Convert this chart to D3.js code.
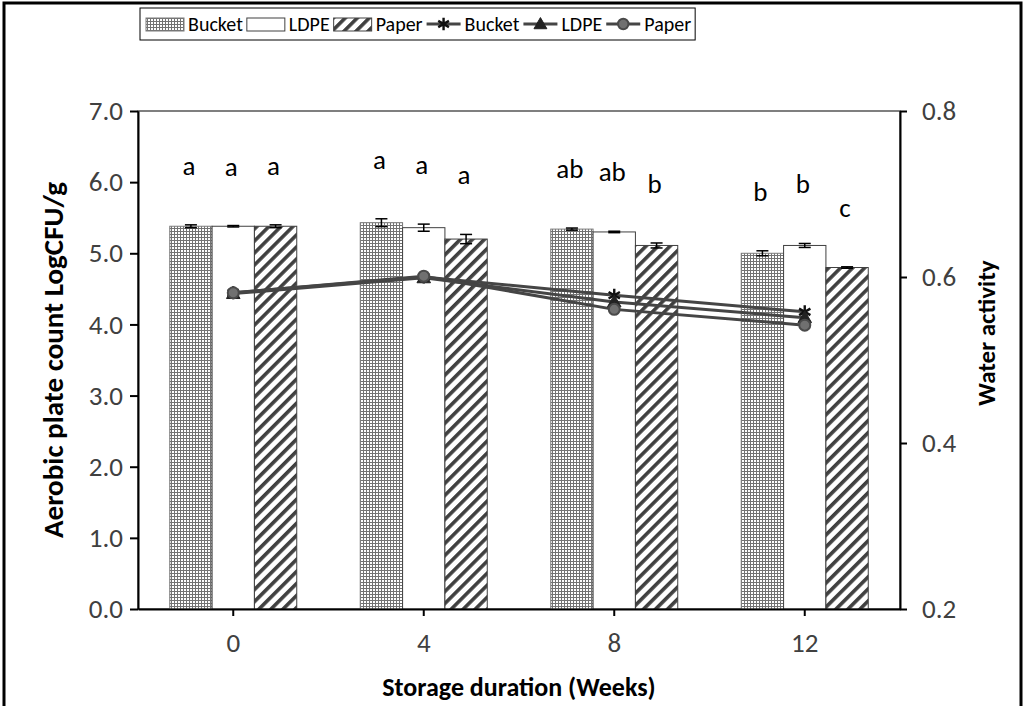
<!DOCTYPE html>
<html>
<head>
<meta charset="utf-8">
<script src="https://cdn.jsdelivr.net/npm/d3@7/dist/d3.min.js"></script>
<style>
  body { margin: 0; background: #fff; }
  svg text { font-family: Carlito, Calibri, Lato, "Open Sans", sans-serif; }
</style>
</head>
<body>
<svg id="chart" width="1025" height="706"></svg>
<script>
var weeks = ["0", "4", "8", "12"];
var series = ["Bucket", "LDPE", "Paper"];

// aerobic plate count, LogCFU/g (bars)
var apcBucket = [5.38, 5.43, 5.34, 5.00];
var apcLdpe = [5.38, 5.36, 5.30, 5.11];
var apcPaper = [5.38, 5.20, 5.11, 4.80];
var errBucket = [0.02, 0.055, 0.015, 0.035];
var errLdpe = [0.01, 0.05, 0.01, 0.028];
var errPaper = [0.02, 0.065, 0.035, 0.01];
var lettersBucket = ["a", "a", "ab", "b"];
var lettersLdpe = ["a", "a", "ab", "b"];
var lettersPaper = ["a", "a", "b", "c"];

// water activity (lines)
var awBucket = [0.581, 0.600, 0.578, 0.558];
var awLdpe = [0.580, 0.599, 0.570, 0.551];
var awPaper = [0.581, 0.601, 0.561, 0.542];

var leftTicks = [0, 1, 2, 3, 4, 5, 6, 7];
var rightTicks = [0.2, 0.4, 0.6, 0.8];

///////////////////////////////////////////////////////////////////////////////

var svg = d3.select("#chart");
var plot = { left: 138, right: 900, top: 111, bottom: 609 };

var x = d3.scaleBand().domain(weeks)
  .range([plot.left, plot.right])
  .paddingInner(1 / 3).paddingOuter(1 / 6);
var xs = d3.scaleBand().domain(series).range([0, x.bandwidth()]);
var yL = d3.scaleLinear().domain([0, 7]).range([plot.bottom, plot.top]);
var yR = d3.scaleLinear().domain([0.2, 0.8]).range([plot.bottom, plot.top]);

var defs = svg.append("defs");

var dots = defs.append("pattern").attr("id", "dots")
  .attr("patternUnits", "userSpaceOnUse").attr("width", 3).attr("height", 3);
dots.append("rect").attr("width", 3).attr("height", 3).attr("fill", "#fff");
dots.append("rect").attr("width", 3).attr("height", 1).attr("fill", "#737373");
dots.append("rect").attr("width", 1).attr("height", 3).attr("fill", "#737373");

var stripes = defs.append("pattern").attr("id", "stripes")
  .attr("patternUnits", "userSpaceOnUse").attr("width", 8.5).attr("height", 10)
  .attr("patternTransform", "rotate(45)");
stripes.append("rect").attr("width", 8.5).attr("height", 10).attr("fill", "#fff");
stripes.append("rect").attr("width", 3.6).attr("height", 10).attr("fill", "#404040");

var fills = { Bucket: "url(#dots)", LDPE: "#fff", Paper: "url(#stripes)" };
var edges = { Bucket: "#7a7a7a", LDPE: "#404040", Paper: "#404040" };

// outer frame
svg.append("rect").attr("x", 4).attr("y", 3).attr("width", 1017).attr("height", 730)
  .attr("fill", "none").attr("stroke", "#000").attr("stroke-width", 3);

// plot area border
svg.append("rect").attr("x", plot.left).attr("y", plot.top)
  .attr("width", plot.right - plot.left).attr("height", plot.bottom - plot.top)
  .attr("fill", "none").attr("stroke", "#000").attr("stroke-width", 1);

///////////////////////////////////////////////////////////////////////////////

var bars = [
  { name: "Bucket", vals: apcBucket, errs: errBucket, letters: lettersBucket },
  { name: "LDPE", vals: apcLdpe, errs: errLdpe, letters: lettersLdpe },
  { name: "Paper", vals: apcPaper, errs: errPaper, letters: lettersPaper }
];

bars.forEach(function (s) {
  var g = svg.append("g");
  weeks.forEach(function (w, i) {
    var bx = x(w) + xs(s.name);
    var cx = bx + xs.bandwidth() / 2;
    g.append("rect")
      .attr("x", bx).attr("y", yL(s.vals[i]))
      .attr("width", xs.bandwidth()).attr("height", yL(0) - yL(s.vals[i]))
      .attr("fill", fills[s.name]).attr("stroke", edges[s.name]).attr("stroke-width", 1);
    var lo = yL(s.vals[i] - s.errs[i]), hi = yL(s.vals[i] + s.errs[i]);
    g.append("line").attr("x1", cx).attr("x2", cx).attr("y1", lo).attr("y2", hi)
      .attr("stroke", "#000").attr("stroke-width", 1.5);
    [lo, hi].forEach(function (yy) {
      g.append("line").attr("x1", cx - 6).attr("x2", cx + 6).attr("y1", yy).attr("y2", yy)
        .attr("stroke", "#000").attr("stroke-width", 1.5);
    });
    g.append("text").attr("x", cx - 2).attr("y", hi - 50)
      .attr("text-anchor", "middle").attr("font-size", 27).attr("fill", "#000")
      .text(s.letters[i]);
  });
});

///////////////////////////////////////////////////////////////////////////////

var lines = [
  { name: "Bucket", vals: awBucket },
  { name: "LDPE", vals: awLdpe },
  { name: "Paper", vals: awPaper }
];

var cxOf = function (w) { return x(w) + x.bandwidth() / 2; };

var drawMarker = function (sel, s, px, py, scale) {
  var k = scale || 1;
  if (s.name === "Bucket") {
    sel.append("path").attr("transform", "translate(" + px + "," + py + ")")
      .attr("d", d3.symbol(d3.symbolAsterisk, 120 * k)())
      .attr("fill", "none").attr("stroke", "#111").attr("stroke-width", 2.4);
  } else if (s.name === "LDPE") {
    sel.append("path").attr("transform", "translate(" + px + "," + (py + 1) + ")")
      .attr("d", d3.symbol(d3.symbolTriangle, 80 * k)())
      .attr("fill", "#222").attr("stroke", "#222").attr("stroke-width", 1);
  } else {
    sel.append("path").attr("transform", "translate(" + px + "," + py + ")")
      .attr("d", d3.symbol(d3.symbolCircle, 95 * k)())
      .attr("fill", "#707070").attr("stroke", "#4a4a4a").attr("stroke-width", 2);
  }
};

var line = d3.line()
  .x(function (d, i) { return cxOf(weeks[i]); })
  .y(function (d) { return yR(d); });

lines.forEach(function (s) {
  svg.append("path").attr("d", line(s.vals))
    .attr("fill", "none").attr("stroke", "#454545").attr("stroke-width", 3);
});
lines.forEach(function (s) {
  var g = svg.append("g");
  s.vals.forEach(function (v, i) {
    drawMarker(g, s, cxOf(weeks[i]), yR(v));
  });
});

///////////////////////////////////////////////////////////////////////////////

var axisStyle = function (g) {
  g.select(".domain").attr("stroke", "#000").attr("stroke-width", 2);
  g.selectAll(".tick line").attr("stroke", "#000").attr("stroke-width", 2);
  g.selectAll(".tick text").attr("font-size", 27).attr("fill", "#404040")
    .style("font-family", "Carlito, Calibri, Lato, 'Open Sans', sans-serif");
};

svg.append("g").attr("transform", "translate(" + plot.left + ",0)")
  .call(d3.axisLeft(yL).tickValues(leftTicks).tickSize(8).tickSizeOuter(0)
    .tickPadding(7).tickFormat(d3.format(".1f")))
  .call(axisStyle);

svg.append("g").attr("transform", "translate(" + plot.right + ",0)")
  .call(d3.axisRight(yR).tickValues(rightTicks).tickSize(7).tickSizeOuter(0)
    .tickPadding(15).tickFormat(d3.format(".1f")))
  .call(axisStyle);

svg.append("g").attr("transform", "translate(0," + plot.bottom + ")")
  .call(d3.axisBottom(x).tickSize(7).tickSizeOuter(0).tickPadding(17))
  .call(axisStyle);

svg.append("text")
  .attr("transform", "translate(53," + (plot.top + plot.bottom) / 2 + ") rotate(-90)")
  .attr("text-anchor", "middle").attr("dy", "0.35em")
  .attr("font-size", 29).attr("font-weight", "bold")
  .text("Aerobic plate count LogCFU/g");

svg.append("text")
  .attr("transform", "translate(986,333) rotate(-90)")
  .attr("text-anchor", "middle").attr("dy", "0.35em")
  .attr("font-size", 25).attr("font-weight", "bold")
  .text("Water activity");

svg.append("text")
  .attr("x", (plot.left + plot.right) / 2).attr("y", 687)
  .attr("text-anchor", "middle").attr("dy", "0.35em")
  .attr("font-size", 26).attr("font-weight", "bold")
  .text("Storage duration (Weeks)");

///////////////////////////////////////////////////////////////////////////////

var legend = svg.append("g");
var legendBox = legend.append("rect").attr("fill", "#fff")
  .attr("stroke", "#000").attr("stroke-width", 1);
var lx0 = 140, lx = 146, ly = 24;

bars.forEach(function (s) {
  legend.append("rect").attr("x", lx).attr("y", ly - 6).attr("width", 38).attr("height", 13)
    .attr("fill", fills[s.name]).attr("stroke", edges[s.name]).attr("stroke-width", 1);
  var t = legend.append("text").attr("x", lx + 42).attr("y", ly).attr("dy", "0.35em")
    .attr("font-size", 20).attr("fill", "#000").text(s.name);
  lx += 42 + t.node().getComputedTextLength() + 4;
});

lines.forEach(function (s) {
  legend.append("line").attr("x1", lx).attr("x2", lx + 34).attr("y1", ly).attr("y2", ly)
    .attr("stroke", "#454545").attr("stroke-width", 3);
  drawMarker(legend, s, lx + 17, ly, 0.9);
  var t = legend.append("text").attr("x", lx + 38).attr("y", ly).attr("dy", "0.35em")
    .attr("font-size", 20).attr("fill", "#000").text(s.name);
  lx += 38 + t.node().getComputedTextLength() + 4;
});

legendBox.attr("x", lx0).attr("y", 8).attr("width", lx - lx0).attr("height", 32);
</script>
</body>
</html>
